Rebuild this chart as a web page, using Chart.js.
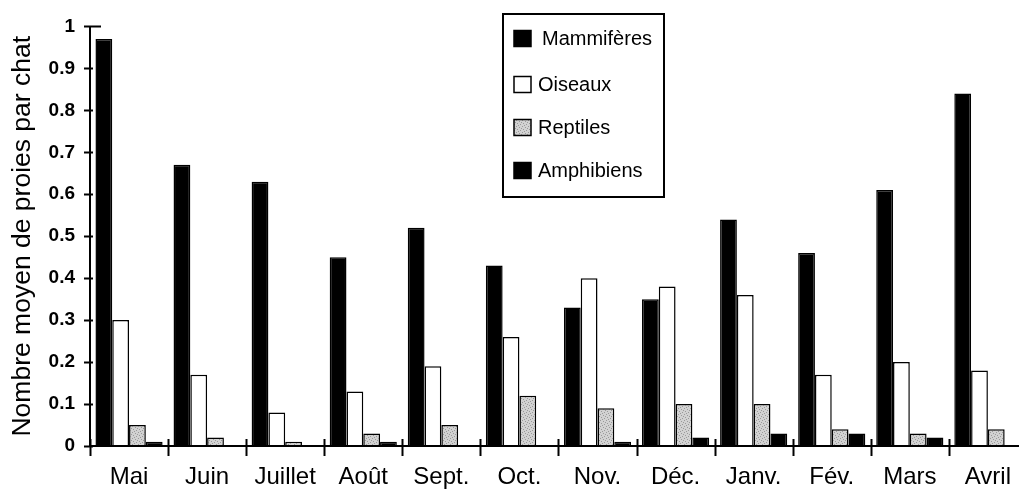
<!DOCTYPE html>
<html>
<head>
<meta charset="utf-8">
<script src="https://cdn.jsdelivr.net/npm/chart.js@4/dist/chart.umd.min.js"></script>
<style>
html,body{margin:0;padding:0;background:#fff;overflow:hidden;width:1019px;height:489px;}
canvas{display:block;}
</style>
</head>
<body>
<canvas id="c" width="1028" height="489"></canvas>
<script>
const categories = ['Mai','Juin','Juillet','Août','Sept.','Oct.','Nov.','Déc.','Janv.','Fév.','Mars','Avril'];
const mammiferes = [0.97,0.67,0.63,0.45,0.52,0.43,0.33,0.35,0.54,0.46,0.61,0.84];
const oiseaux    = [0.30,0.17,0.08,0.13,0.19,0.26,0.40,0.38,0.36,0.17,0.20,0.18];
const reptiles   = [0.05,0.02,0.01,0.03,0.05,0.12,0.09,0.10,0.10,0.04,0.03,0.04];
const amphibiens = [0.01,0,0,0.01,0,0,0.01,0.02,0.03,0.03,0.02,0];
const seriesNames = ['Mammifères','Oiseaux','Reptiles','Amphibiens'];
const yTicks = [0,0.1,0.2,0.3,0.4,0.5,0.6,0.7,0.8,0.9,1];
const yTitle = 'Nombre moyen de proies par chat';

const FONT = "'Liberation Sans', Arial, sans-serif";

// stippled gray pattern for reptiles
function makePattern(){
  const p = document.createElement('canvas');
  p.width = 6; p.height = 6;
  const g = p.getContext('2d');
  g.fillStyle = '#d2d2d2'; g.fillRect(0,0,6,6);
  g.fillStyle = '#9a9a9a';
  [[0,0],[3,1],[1,3],[4,4],[5,2],[2,5]].forEach(([a,b]) => g.fillRect(a,b,1,1));
  return document.getElementById('c').getContext('2d').createPattern(p,'repeat');
}
const reptilePattern = makePattern();

const fills = ['#000000','#ffffff',reptilePattern,'#000000'];

const axisTicksPlugin = {
  id: 'axisTicks',
  afterDraw(chart){
    const ctx = chart.ctx;
    const x = chart.scales.x, y = chart.scales.y;
    const ax = chart.chartArea.left, ay = chart.chartArea.bottom;
    ctx.save();
    ctx.strokeStyle = '#000';
    ctx.lineWidth = 2;
    yTicks.forEach(v => {
      const py = Math.round(y.getPixelForValue(v)) + 0.5;
      ctx.beginPath();
      const right = v === 1 ? ax + 11 : ax + 3;
      ctx.moveTo(ax - 6, py); ctx.lineTo(right, py);
      ctx.stroke();
    });
    const step = x.getPixelForValue(1) - x.getPixelForValue(0);
    for (let i = 0; i < categories.length; i++) {
      const px = Math.round(x.getPixelForValue(i) - step / 2) + 0.5;
      ctx.beginPath();
      ctx.moveTo(px, ay - 7); ctx.lineTo(px, ay + 10);
      ctx.stroke();
    }
    ctx.beginPath();
    ctx.moveTo(ax, y.getPixelForValue(1)); ctx.lineTo(ax, ay);
    ctx.lineTo(chart.width, ay);
    ctx.stroke();
    ctx.restore();
  }
};

const legendPlugin = {
  id: 'boxLegend',
  afterDraw(chart){
    const ctx = chart.ctx;
    ctx.save();
    ctx.strokeStyle = '#000';
    ctx.lineWidth = 2;
    ctx.fillStyle = '#fff';
    ctx.fillRect(503, 14, 161, 183);
    ctx.strokeRect(503, 14, 161, 183);
    const rows = [38.5, 84.5, 127.5, 170.5];
    ctx.font = '20px ' + FONT;
    ctx.textBaseline = 'middle';
    chart.data.datasets.forEach((ds, i) => {
      const cy = rows[i];
      ctx.fillStyle = ds.backgroundColor;
      ctx.fillRect(514, cy - 8, 17, 16);
      ctx.lineWidth = 1.5;
      ctx.strokeRect(514, cy - 8, 17, 16);
      ctx.fillStyle = '#000';
      ctx.fillText(ds.label, i === 0 ? 542 : 538, cy + 1);
    });
    ctx.restore();
  }
};

new Chart(document.getElementById('c'), {
  type: 'bar',
  data: {
    labels: categories,
    datasets: [mammiferes, oiseaux, reptiles, amphibiens].map((d, i) => ({
      label: seriesNames[i],
      data: d,
      backgroundColor: fills[i],
      borderColor: '#000',
      borderWidth: 1.5,
      borderSkipped: 'start',
      categoryPercentage: 0.86,
      barPercentage: 1.0
    }))
  },
  options: {
    responsive: false,
    animation: false,
    devicePixelRatio: 1,
    layout: { padding: { top: 23, right: 0, left: 0, bottom: 0 } },
    plugins: { legend: { display: false }, tooltip: { enabled: false } },
    scales: {
      x: {
        offset: true,
        grid: { display: false, drawTicks: false },
        border: { display: false },
        ticks: {
          color: '#000', autoSkip: false, maxRotation: 0, padding: 17,
          font: { family: FONT, size: 24 }
        },
        afterFit(s){ s.height = 43; }
      },
      y: {
        min: 0, max: 1,
        grid: { display: false, drawTicks: false },
        border: { display: false },
        afterBuildTicks(s){ s.ticks = yTicks.map(v => ({ value: v })); },
        ticks: {
          color: '#000', padding: 15,
          font: { family: FONT, size: 19, weight: 'bold' },
          callback: v => String(v)
        },
        title: {
          display: true, text: yTitle, color: '#000',
          font: { family: FONT, size: 26.5 },
          padding: { top: 7, bottom: 0 }
        },
        afterFit(s){ s.width = 90; }
      }
    }
  },
  plugins: [axisTicksPlugin, legendPlugin]
});
</script>
</body>
</html>
